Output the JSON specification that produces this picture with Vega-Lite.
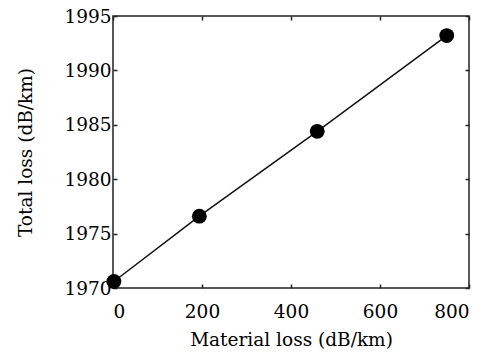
{
  "$schema": "https://vega.github.io/schema/vega-lite/v6.json",
  "width": 356,
  "height": 272,
  "autosize": "none",
  "padding": {"left": 113, "top": 16, "right": 26, "bottom": 70},
  "background": "white",
  "config": {
    "view": {"stroke": "#222", "strokeWidth": 1.5},
    "font": "DejaVu Serif",
    "axis": {
      "grid": false,
      "domain": false,
      "ticks": true,
      "tickSize": -4,
      "tickColor": "#222",
      "tickWidth": 1.5,
      "labelFont": "DejaVu Serif",
      "labelFontSize": 18.5,
      "labelColor": "#000",
      "titleFont": "DejaVu Serif",
      "titleFontSize": 18.5,
      "titleFontWeight": "normal",
      "titleColor": "#000"
    }
  },
  "data": {
    "values": [
      {"material": 2, "total": 1970.6},
      {"material": 194, "total": 1976.6},
      {"material": 459, "total": 1984.4},
      {"material": 750, "total": 1993.2}
    ]
  },
  "layer": [
    {
      "mark": {"type": "line", "color": "#111", "strokeWidth": 1.5},
      "encoding": {
        "x": {"field": "material", "type": "quantitative", "scale": {"domain": [0, 800], "nice": false},
          "axis": {"title": "Material loss (dB/km)", "format": "d", "values": [0, 200, 400, 600, 800], "labelPadding": 18, "titlePadding": 10}},
        "y": {"field": "total", "type": "quantitative", "scale": {"domain": [1970, 1995], "nice": false, "zero": false},
          "axis": {"title": "Total loss (dB/km)", "format": "d", "values": [1970, 1975, 1980, 1985, 1990, 1995], "labelPadding": 6, "titlePadding": 28}}
      }
    },
    {
      "mark": {"type": "point", "filled": true, "color": "#000", "size": 220, "opacity": 1, "shape": "circle"},
      "encoding": {
        "x": {"field": "material", "type": "quantitative", "scale": {"domain": [0, 800], "nice": false},
          "axis": {"orient": "top", "labels": false, "title": null, "values": [0, 200, 400, 600, 800]}},
        "y": {"field": "total", "type": "quantitative", "scale": {"domain": [1970, 1995], "nice": false, "zero": false},
          "axis": {"orient": "right", "labels": false, "title": null, "values": [1970, 1975, 1980, 1985, 1990, 1995]}}
      }
    }
  ],
  "resolve": {"axis": {"x": "independent", "y": "independent"}}
}
